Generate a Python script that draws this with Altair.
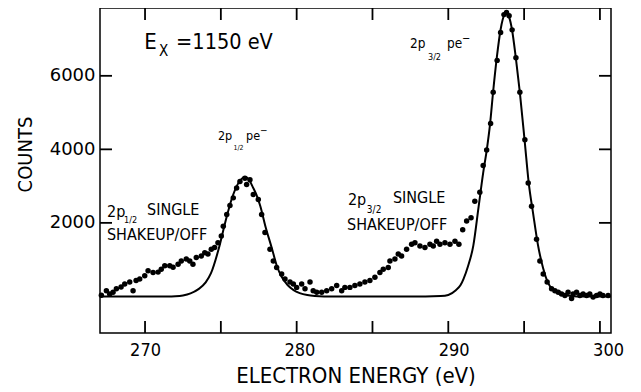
import altair as alt
import pandas as pd

# measured points (electron energy in eV, counts)
dot_energy = [
    267.12, 267.45, 267.67, 267.89, 268.11, 268.42, 268.66, 268.99, 269.21, 269.41,
    269.65, 269.98, 270.20, 270.53, 270.86, 271.07, 271.30, 271.63, 271.85, 272.18,
    272.39, 272.72, 272.95, 273.16, 273.38, 273.71, 273.94, 274.15, 274.37, 274.59,
    274.81, 275.03, 275.16, 275.39, 275.60, 275.82, 276.04, 276.26, 276.59, 276.70,
    276.92, 277.14, 277.47, 277.69, 277.91, 278.24, 278.46, 278.68, 279.01, 279.23,
    279.56, 279.78, 280.00, 280.33, 280.55, 280.88, 281.09, 281.32, 281.65, 281.98,
    282.31, 282.64, 282.97, 283.18, 283.51, 283.84, 284.17, 284.50, 284.83, 285.16,
    285.49, 285.71, 286.04, 286.15, 286.48, 286.70, 286.92, 287.25, 287.58, 287.80,
    288.13, 288.46, 288.79, 289.01, 289.23, 289.45, 289.78, 290.11, 290.44, 290.70,
    290.95, 291.21, 291.50, 291.75, 292.08, 292.30, 292.53, 292.79, 292.96, 293.22,
    293.45, 293.67, 293.84, 294.01, 294.21, 294.46, 294.72, 295.05, 295.27, 295.49,
    295.82, 296.04, 296.26, 296.52, 296.81, 297.03, 297.25, 297.47, 297.69, 297.90,
    298.13, 298.23, 298.46, 298.68, 298.89, 299.12, 299.33, 299.55, 299.78, 300.00,
    300.20, 300.54,
]
dot_counts = [
    30, 155, 65, 115, 205, 255, 340, 390, 155, 430,
    470, 560, 700, 650, 660, 740, 835, 835, 795, 875,
    965, 1015, 965, 875, 1055, 1100, 1190, 1150, 1280, 1330,
    1460, 1645, 1910, 2230, 2470, 2680, 2950, 3125, 3215, 3045,
    3175, 2770, 2635, 2230, 1735, 1280, 965, 785, 610, 470,
    390, 340, 245, 340, 205, 390, 155, 115, 115, 155,
    205, 295, 155, 245, 245, 295, 340, 390, 430, 520,
    650, 740, 785, 965, 1015, 1150, 1100, 1280, 1420, 1460,
    1370, 1330, 1420, 1370, 1500, 1420, 1460, 1420, 1500, 1420,
    1810, 2050, 2140, 2590, 2830, 3560, 3985, 4705, 5555, 6420,
    7180, 7665, 7725, 7635, 7250, 6490, 5555, 4260, 3085, 2455,
    1555, 965, 610, 390, 205, 155, 115, 65, 25, 115,
    -60, 65, 115, 25, 65, 25, 65, -20, 25, 65,
    25, 25,
]

# fitted photoelectron peaks (solid curve)
fit_energy = [
    267.03, 271.5, 272.0, 272.5, 273.0, 273.5, 274.0, 274.35, 274.85, 275.3,
    275.7, 276.1, 276.35, 276.6, 276.85, 277.1, 277.35, 277.6, 277.95, 278.35,
    278.7, 279.0, 279.4, 279.8, 280.2, 280.7, 281.2, 281.8, 288.5, 289.5,
    290.0, 290.5, 290.8, 291.0, 291.3, 291.65, 292.0, 292.3, 292.55, 292.75,
    292.95, 293.2, 293.45, 293.7, 293.85, 294.0, 294.2, 294.45, 294.72, 295.05,
    295.3, 295.6, 295.9, 296.25, 296.55, 297.0, 297.55, 298.0, 298.5, 300.73,
]
fit_counts = [
    0, 0, 5, 25, 80, 190, 380, 630, 1280, 2030,
    2630, 3040, 3190, 3245, 3180, 2980, 2760, 2460, 1890, 1330,
    820, 540, 310, 170, 90, 35, 10, 0, 0, 10,
    40, 170, 300, 470, 820, 1380, 2440, 3360, 4020, 4670,
    5540, 6500, 7260, 7660, 7710, 7610, 7260, 6500, 5540, 4170,
    3100, 2240, 1430, 770, 390, 150, 50, 15, 0, 0,
]

x_tick_values = [270, 275, 280, 285, 290, 295, 300]
x_label_values = [270, 280, 290, 300]
y_values = [2000, 4000, 6000]

# annotations: text, energy, counts, font size
ann_text = ["E", "X", "=1150 eV",
            "2p", "1/2", "pe", "\u2212",
            "2p", "3/2", "pe", "\u2212",
            "2p", "1/2", "SINGLE", "SHAKEUP/OFF",
            "2p", "3/2", "SINGLE", "SHAKEUP/OFF"]
ann_x = [269.95, 270.92, 272.05,
         274.81, 275.83, 276.66, 277.58,
         287.47, 288.66, 289.91, 290.90,
         267.49, 268.62, 270.13, 267.49,
         283.38, 284.63, 286.35, 283.32]
ann_y = [6730, 6535, 6730,
         4241, 3990, 4241, 4404,
         6765, 6440, 6765, 6928,
         2152, 1989, 2206, 1528,
         2478, 2261, 2532, 1799]
ann_size = [22, 15, 21.5,
            12.5, 7, 12.5, 10,
            13.5, 9, 13.5, 11,
            16, 9, 16, 16,
            16, 10, 16, 16]

X_MIN, X_MAX = 267.03, 300.73
Y_MIN, Y_MAX = -996, 7845
X_TICK_LEN = 0.79    # inward tick length along x, in eV
Y_TICK_LEN = 326     # inward tick length along y, in counts

dots = pd.DataFrame({"e": dot_energy, "c": dot_counts})
fit = pd.DataFrame({"e": fit_energy, "c": fit_counts})
ann = pd.DataFrame({"t": ann_text, "e": ann_x, "c": ann_y, "fs": ann_size})
xt = pd.DataFrame({"v": x_tick_values})
yt = pd.DataFrame({"v": y_values})

W, H = 511, 325
COND = "DejaVu Sans Condensed"
xs = alt.Scale(domain=[X_MIN, X_MAX], nice=False, zero=False)
ys = alt.Scale(domain=[Y_MIN, Y_MAX], nice=False, zero=False)

line = alt.Chart(fit).mark_line(color="black", strokeWidth=2, interpolate="monotone").encode(
    x=alt.X("e:Q", scale=xs, axis=alt.Axis(
        orient="bottom", values=x_label_values, ticks=False, tickSize=0, domain=False, grid=False,
        labelFont=COND, labelFontSize=18, labelPadding=8, labelColor="black",
        labelOffset=alt.ExprRef("(datum.value - 270) * 0.27"),
        title="ELECTRON ENERGY (eV)", titleFont=COND, titleFontSize=22, titleFontWeight="normal",
        titleColor="black", titleY=49, titleBaseline="alphabetic")),
    y=alt.Y("c:Q", scale=ys, axis=alt.Axis(
        orient="left", values=y_values, format="d", ticks=False, tickSize=0, domain=False, grid=False,
        labelFont="DejaVu Sans", labelFontSize=18, labelPadding=5, labelColor="black",
        title="COUNTS", titleFont=COND, titleFontSize=20, titleFontWeight="normal", titleColor="black",
        titleX=-75, titleY=146, titleAngle=270, titleBaseline="middle", titleAlign="center")),
)

points = alt.Chart(dots).mark_circle(size=30, color="black", opacity=1).encode(
    x=alt.X("e:Q", scale=xs, axis=None),
    y=alt.Y("c:Q", scale=ys, axis=None),
)

labels = alt.Chart(ann).mark_text(align="left", baseline="alphabetic", font=COND, color="black").encode(
    x=alt.X("e:Q", scale=xs, axis=None),
    y=alt.Y("c:Q", scale=ys, axis=None),
    text="t:N",
    size=alt.Size("fs:Q", scale=None),
)

tick_style = dict(color="black", strokeWidth=1.8)
ticks_bottom = alt.Chart(xt).mark_rule(**tick_style).encode(
    x=alt.X("v:Q", scale=xs, axis=None),
    y=alt.datum(Y_MIN, scale=ys, axis=None), y2=alt.datum(Y_MIN + Y_TICK_LEN))
ticks_top = alt.Chart(xt).mark_rule(**tick_style).encode(
    x=alt.X("v:Q", scale=xs, axis=None),
    y=alt.datum(Y_MAX - Y_TICK_LEN, scale=ys, axis=None), y2=alt.datum(Y_MAX))
ticks_left = alt.Chart(yt).mark_rule(**tick_style).encode(
    y=alt.Y("v:Q", scale=ys, axis=None),
    x=alt.datum(X_MIN, scale=xs, axis=None), x2=alt.datum(X_MIN + X_TICK_LEN))
ticks_right = alt.Chart(yt).mark_rule(**tick_style).encode(
    y=alt.Y("v:Q", scale=ys, axis=None),
    x=alt.datum(X_MAX - X_TICK_LEN, scale=xs, axis=None), x2=alt.datum(X_MAX))

chart = alt.layer(
    line, points, labels, ticks_bottom, ticks_top, ticks_left, ticks_right
).resolve_axis(
    x="independent", y="independent"
).properties(
    width=W, height=H,
    autosize=alt.AutoSizeParams(type="none"),
    padding={"left": 92, "top": 0, "right": 20, "bottom": 58},
).configure_view(stroke="black", strokeWidth=1.5)

chart.save("out.html", embed_options={"renderer": "svg", "actions": False})
